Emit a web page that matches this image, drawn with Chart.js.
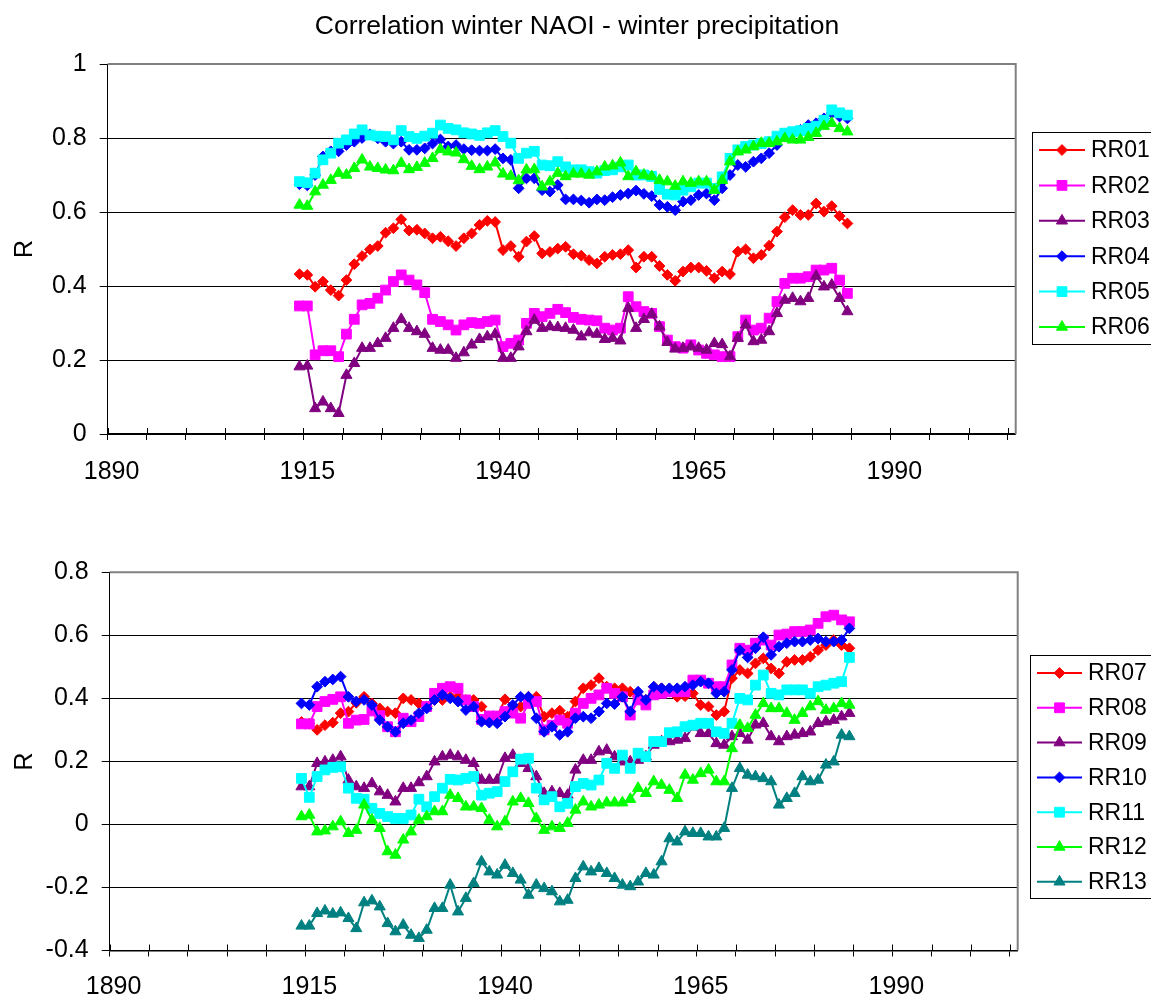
<!DOCTYPE html>
<html>
<head>
<meta charset="utf-8">
<script src="https://cdn.jsdelivr.net/npm/chart.js@4.4.1/dist/chart.umd.min.js"></script>
<style>
html,body{margin:0;padding:0;background:#fff;width:1151px;height:1004px;overflow:hidden}
.wrap{position:absolute;left:0;width:1151px}
</style>
</head>
<body>
<div class="wrap" style="top:0;height:505px"><canvas id="c1" width="1151" height="505"></canvas></div>
<div class="wrap" style="top:505px;height:499px"><canvas id="c2" width="1151" height="499"></canvas></div>
<script>
// ---------- data ----------
const chartTitle = 'Correlation winter NAOI - winter precipitation';
const axisFirstYear = 1890, axisLastYear = 2005;
const years = [1914,1915,1916,1917,1918,1919,1920,1921,1922,1923,1924,1925,1926,1927,1928,1929,1930,1931,1932,1933,
1934,1935,1936,1937,1938,1939,1940,1941,1942,1943,1944,1945,1946,1947,1948,1949,1950,1951,1952,1953,
1954,1955,1956,1957,1958,1959,1960,1961,1962,1963,1964,1965,1966,1967,1968,1969,1970,1971,1972,1973,
1974,1975,1976,1977,1978,1979,1980,1981,1982,1983,1984];

const RR01 = [0.432,0.43,0.398,0.412,0.389,0.374,0.416,0.459,0.481,0.499,0.508,0.544,0.556,0.58,0.55,0.552,0.542,0.529,0.533,0.521,0.508,0.529,0.542,0.565,0.576,0.573,0.497,0.508,0.479,0.52,0.535,0.488,0.492,0.501,0.506,0.486,0.482,0.47,0.461,0.479,0.484,0.486,0.497,0.45,0.479,0.479,0.454,0.43,0.414,0.439,0.45,0.45,0.441,0.421,0.439,0.432,0.493,0.499,0.475,0.484,0.509,0.547,0.586,0.605,0.592,0.592,0.623,0.601,0.616,0.589,0.569];
const RR02 = [0.346,0.346,0.214,0.225,0.225,0.209,0.27,0.31,0.349,0.353,0.367,0.389,0.412,0.43,0.416,0.403,0.382,0.31,0.304,0.295,0.281,0.295,0.301,0.299,0.304,0.308,0.236,0.245,0.254,0.299,0.326,0.317,0.326,0.337,0.328,0.315,0.31,0.308,0.306,0.286,0.281,0.286,0.371,0.344,0.331,0.326,0.29,0.254,0.236,0.232,0.241,0.227,0.218,0.214,0.209,0.209,0.263,0.308,0.281,0.286,0.313,0.358,0.407,0.421,0.421,0.425,0.443,0.443,0.448,0.416,0.38];
const RR03 = [0.182,0.184,0.069,0.087,0.069,0.056,0.159,0.191,0.232,0.232,0.245,0.259,0.286,0.31,0.286,0.277,0.27,0.232,0.227,0.227,0.205,0.22,0.241,0.256,0.263,0.27,0.205,0.205,0.236,0.277,0.308,0.286,0.29,0.288,0.286,0.281,0.263,0.274,0.27,0.256,0.259,0.252,0.34,0.286,0.31,0.324,0.29,0.248,0.23,0.232,0.236,0.232,0.227,0.245,0.242,0.209,0.259,0.295,0.25,0.254,0.277,0.326,0.362,0.367,0.358,0.367,0.427,0.398,0.403,0.367,0.331];
const RR04 = [0.675,0.672,0.70,0.75,0.764,0.764,0.781,0.79,0.80,0.81,0.799,0.79,0.785,0.79,0.768,0.768,0.772,0.785,0.796,0.777,0.781,0.77,0.767,0.766,0.766,0.77,0.745,0.741,0.664,0.691,0.691,0.659,0.655,0.673,0.634,0.634,0.631,0.625,0.634,0.632,0.64,0.646,0.65,0.658,0.649,0.643,0.619,0.614,0.605,0.628,0.632,0.646,0.65,0.632,0.664,0.70,0.727,0.722,0.736,0.745,0.759,0.781,0.804,0.813,0.822,0.835,0.84,0.853,0.867,0.858,0.853];
const RR05 = [0.682,0.679,0.705,0.741,0.759,0.786,0.795,0.811,0.822,0.808,0.805,0.804,0.795,0.82,0.804,0.799,0.805,0.813,0.835,0.826,0.822,0.814,0.811,0.807,0.814,0.82,0.804,0.786,0.745,0.759,0.764,0.727,0.725,0.736,0.722,0.714,0.714,0.709,0.705,0.712,0.714,0.722,0.727,0.70,0.70,0.696,0.661,0.648,0.646,0.659,0.668,0.678,0.678,0.664,0.695,0.745,0.768,0.777,0.781,0.785,0.79,0.805,0.813,0.817,0.82,0.826,0.832,0.848,0.876,0.868,0.862];
const RR06 = [0.619,0.616,0.655,0.673,0.686,0.705,0.70,0.718,0.741,0.722,0.718,0.714,0.712,0.732,0.715,0.721,0.732,0.745,0.769,0.763,0.76,0.742,0.724,0.715,0.722,0.733,0.703,0.697,0.685,0.714,0.715,0.668,0.682,0.705,0.696,0.703,0.703,0.70,0.709,0.722,0.725,0.733,0.696,0.709,0.70,0.696,0.686,0.682,0.67,0.682,0.678,0.682,0.682,0.659,0.686,0.736,0.763,0.768,0.777,0.786,0.786,0.79,0.799,0.795,0.795,0.802,0.813,0.832,0.84,0.826,0.817];

const RR07 = [0.325,0.32,0.30,0.315,0.323,0.353,0.358,0.386,0.405,0.384,0.368,0.358,0.353,0.40,0.395,0.384,0.374,0.395,0.395,0.405,0.405,0.395,0.395,0.374,0.342,0.342,0.397,0.374,0.374,0.405,0.405,0.342,0.353,0.361,0.342,0.39,0.432,0.442,0.464,0.437,0.432,0.432,0.421,0.405,0.395,0.437,0.432,0.421,0.405,0.407,0.416,0.379,0.374,0.347,0.358,0.464,0.49,0.479,0.511,0.527,0.495,0.479,0.516,0.522,0.522,0.532,0.553,0.569,0.585,0.569,0.559];
const RR08 = [0.319,0.319,0.374,0.39,0.397,0.405,0.321,0.331,0.333,0.36,0.345,0.31,0.294,0.337,0.326,0.342,0.374,0.416,0.432,0.437,0.432,0.395,0.374,0.333,0.344,0.344,0.358,0.353,0.337,0.384,0.39,0.30,0.315,0.331,0.321,0.353,0.384,0.40,0.411,0.432,0.416,0.405,0.347,0.395,0.379,0.411,0.416,0.421,0.421,0.421,0.458,0.458,0.448,0.437,0.437,0.506,0.559,0.553,0.575,0.585,0.569,0.601,0.604,0.612,0.612,0.617,0.638,0.659,0.664,0.649,0.643];
const RR09 = [0.12,0.12,0.194,0.199,0.204,0.215,0.141,0.12,0.115,0.13,0.104,0.093,0.072,0.115,0.115,0.133,0.152,0.199,0.215,0.22,0.215,0.204,0.194,0.141,0.141,0.141,0.21,0.22,0.194,0.178,0.152,0.099,0.104,0.099,0.093,0.173,0.204,0.204,0.231,0.236,0.215,0.199,0.199,0.204,0.215,0.252,0.263,0.263,0.268,0.273,0.31,0.289,0.289,0.257,0.252,0.279,0.289,0.268,0.316,0.321,0.279,0.263,0.279,0.284,0.289,0.294,0.321,0.326,0.331,0.342,0.353];
const RR10 = [0.384,0.379,0.437,0.453,0.46,0.469,0.405,0.39,0.395,0.379,0.331,0.31,0.294,0.321,0.331,0.353,0.368,0.395,0.411,0.40,0.39,0.363,0.374,0.326,0.323,0.321,0.342,0.379,0.405,0.405,0.337,0.294,0.31,0.284,0.294,0.337,0.342,0.337,0.358,0.384,0.382,0.405,0.358,0.421,0.395,0.437,0.432,0.432,0.432,0.437,0.442,0.453,0.448,0.416,0.421,0.49,0.553,0.53,0.559,0.594,0.538,0.564,0.575,0.58,0.58,0.585,0.59,0.58,0.58,0.585,0.622];
const RR11 = [0.146,0.086,0.152,0.173,0.181,0.183,0.115,0.083,0.08,0.051,0.035,0.025,0.019,0.019,0.03,0.08,0.056,0.088,0.115,0.143,0.141,0.146,0.152,0.093,0.099,0.104,0.136,0.167,0.207,0.21,0.115,0.078,0.088,0.056,0.067,0.12,0.13,0.125,0.141,0.194,0.178,0.22,0.178,0.226,0.215,0.263,0.263,0.291,0.294,0.31,0.315,0.321,0.321,0.294,0.289,0.321,0.40,0.395,0.442,0.474,0.416,0.411,0.427,0.427,0.427,0.416,0.437,0.442,0.448,0.453,0.53];
const RR12 = [0.025,0.03,-0.023,-0.02,-0.007,0.009,-0.028,-0.018,0.062,0.014,-0.012,-0.086,-0.097,-0.049,-0.023,0.014,0.025,0.041,0.041,0.093,0.083,0.056,0.056,0.051,0.014,-0.007,0.009,0.072,0.083,0.067,0.019,-0.018,-0.007,-0.012,0.004,0.046,0.072,0.056,0.062,0.069,0.069,0.069,0.08,0.115,0.099,0.136,0.125,0.109,0.083,0.157,0.141,0.162,0.173,0.136,0.136,0.241,0.315,0.305,0.347,0.384,0.368,0.368,0.353,0.331,0.353,0.374,0.39,0.363,0.368,0.384,0.379];
const RR13 = [-0.322,-0.322,-0.282,-0.274,-0.284,-0.28,-0.298,-0.33,-0.248,-0.242,-0.261,-0.314,-0.34,-0.319,-0.351,-0.361,-0.335,-0.266,-0.266,-0.192,-0.277,-0.234,-0.187,-0.118,-0.15,-0.16,-0.129,-0.155,-0.176,-0.224,-0.192,-0.203,-0.213,-0.245,-0.24,-0.171,-0.134,-0.15,-0.139,-0.155,-0.171,-0.192,-0.197,-0.182,-0.155,-0.16,-0.118,-0.045,-0.055,-0.023,-0.028,-0.028,-0.039,-0.039,-0.012,0.115,0.178,0.157,0.152,0.146,0.136,0.062,0.083,0.099,0.152,0.136,0.141,0.189,0.199,0.284,0.279];

const topNames = ['RR01','RR02','RR03','RR04','RR05','RR06'];
const topSeries = [RR01, RR02, RR03, RR04, RR05, RR06];
const botNames = ['RR07','RR08','RR09','RR10','RR11','RR12','RR13'];
const botSeries = [RR07, RR08, RR09, RR10, RR11, RR12, RR13];

// ---------- styles ----------
const FONT = "'Liberation Sans', Arial, sans-serif";
const DIA = {shape:'rectRot', r:5.4};
const SQ = {shape:'rect', r:6.9};
const TRI = {shape:'triangle', r:6.4};
const topStyles = [
  Object.assign({color:'#FF0000'}, DIA),
  Object.assign({color:'#FF00FF'}, SQ),
  Object.assign({color:'#800080'}, TRI),
  Object.assign({color:'#0000FF'}, DIA),
  Object.assign({color:'#00FFFF'}, SQ),
  Object.assign({color:'#00FF00'}, TRI)
];
const botStyles = [
  Object.assign({color:'#FF0000'}, DIA),
  Object.assign({color:'#FF00FF'}, SQ),
  Object.assign({color:'#800080'}, TRI),
  Object.assign({color:'#0000FF'}, DIA),
  Object.assign({color:'#00FFFF'}, SQ),
  Object.assign({color:'#00FF00'}, TRI),
  Object.assign({color:'#008080'}, TRI)
];

const axisLabels = [];
for (let y = axisFirstYear; y <= axisLastYear; y++) axisLabels.push(String(y));

function buildDatasets(names, series, styles) {
  return names.map((n, k) => ({
    label: n,
    data: series[k].map((v, i) => ({x: String(years[i]), y: v})),
    borderColor: styles[k].color,
    backgroundColor: styles[k].color,
    pointBackgroundColor: styles[k].color,
    pointBorderColor: styles[k].color,
    pointStyle: styles[k].shape,
    pointRadius: styles[k].r,
    pointHoverRadius: styles[k].r,
    pointBorderWidth: 1,
    borderWidth: 2,
    tension: 0,
    fill: false,
    order: -k
  }));
}

// ---------- plugins ----------
const crossTicks = {
  id: 'crossTicks',
  afterDraw(chart) {
    const xs = chart.scales.x, ctx = chart.ctx;
    const step = xs.getPixelForValue(1) - xs.getPixelForValue(0);
    const yb = chart.chartArea.bottom;
    ctx.save();
    ctx.strokeStyle = '#000';
    ctx.lineWidth = 1;
    for (let i = 0; i < axisLabels.length; i += 5) {
      const x = Math.round(xs.getPixelForValue(i) - step / 2) + 0.5;
      ctx.beginPath();
      ctx.moveTo(x, yb - 6);
      ctx.lineTo(x, yb);
      ctx.stroke();
    }
    ctx.restore();
  }
};

const plotBorder = {
  id: 'plotBorder',
  beforeDatasetsDraw(chart) {
    const a = chart.chartArea, ctx = chart.ctx;
    ctx.save();
    ctx.strokeStyle = '#808080';
    ctx.lineWidth = 2;
    ctx.beginPath();
    ctx.moveTo(a.left, a.top);
    ctx.lineTo(a.right, a.top);
    ctx.lineTo(a.right, a.bottom);
    ctx.stroke();
    ctx.restore();
  }
};

const boxLegend = {
  id: 'boxLegend',
  afterDraw(chart, args, o) {
    const ctx = chart.ctx;
    ctx.save();
    ctx.fillStyle = '#fff';
    ctx.fillRect(o.x, o.y, o.w, o.h);
    ctx.strokeStyle = '#000';
    ctx.lineWidth = 1;
    ctx.strokeRect(o.x + 0.5, o.y + 0.5, o.w, o.h);
    chart.data.datasets.forEach((ds, k) => {
      const cy = o.firstY + k * o.step;
      ctx.strokeStyle = ds.borderColor;
      ctx.lineWidth = ds.borderWidth;
      ctx.beginPath();
      ctx.moveTo(o.lineX1, cy);
      ctx.lineTo(o.lineX2, cy);
      ctx.stroke();
      ctx.fillStyle = ds.backgroundColor;
      ctx.strokeStyle = ds.borderColor;
      ctx.lineWidth = 1;
      Chart.helpers.drawPoint(ctx, {pointStyle: ds.pointStyle, radius: ds.pointRadius, borderWidth: 1, rotation: 0}, (o.lineX1 + o.lineX2) / 2, cy);
      ctx.fillStyle = '#000';
      ctx.font = o.font;
      ctx.textBaseline = 'middle';
      ctx.textAlign = 'left';
      ctx.fillText(ds.label, o.textX, cy + 1);
    });
    ctx.restore();
  }
};

const titleText = {
  id: 'titleText',
  afterDraw(chart, args, o) {
    if (!o || !o.text) return;
    const ctx = chart.ctx;
    ctx.save();
    ctx.fillStyle = '#000';
    ctx.font = o.font;
    ctx.textAlign = 'center';
    ctx.textBaseline = 'middle';
    ctx.fillText(o.text, o.x, o.y);
    ctx.restore();
  }
};

function makeChart(canvasId, cfg) {
  const H = cfg.height;
  return new Chart(document.getElementById(canvasId), {
    type: 'line',
    data: {labels: axisLabels, datasets: cfg.datasets},
    options: {
      responsive: false,
      animation: false,
      devicePixelRatio: 1,
      events: [],
      layout: {padding: {top: cfg.top, right: 1151 - cfg.right, left: 0, bottom: 0}},
      plugins: {
        legend: {display: false},
        tooltip: {enabled: false},
        title: {display: false},
        boxLegend: cfg.legend,
        titleText: cfg.title || {}
      },
      scales: {
        x: {
          type: 'category',
          offset: true,
          afterFit(s) { s.height = H - cfg.bottom; },
          border: {display: true, color: '#000', width: 1.5},
          grid: {
            display: true,
            offset: true,
            drawOnChartArea: false,
            drawTicks: true,
            tickLength: 6,
            lineWidth: 1,
            color: (c) => (c.type === 'tick' && c.index % 5 === 0) ? '#000' : 'rgba(0,0,0,0)'
          },
          ticks: {
            autoSkip: false,
            maxRotation: 0,
            minRotation: 0,
            padding: cfg.xPad,
            color: '#000',
            font: {family: FONT, size: 25},
            callback: (v, i) => (i % 25 === 0 ? axisLabels[i] : '')
          }
        },
        y: {
          type: 'linear',
          min: cfg.min,
          max: cfg.max,
          afterFit(s) { s.width = cfg.left; },
          border: {display: true, color: '#000', width: 1},
          grid: {
            color: (c) => (c.tick && Math.abs(c.tick.value - cfg.max) < 1e-9) ? 'rgba(0,0,0,0)' : '#000',
            tickColor: '#000',
            lineWidth: 1,
            tickLength: 8
          },
          ticks: {
            stepSize: 0.2,
            padding: 13,
            color: '#000',
            font: {family: FONT, size: 25},
            callback: (v) => String(Math.round(v * 100) / 100)
          },
          title: {
            display: true,
            text: 'R',
            color: '#000',
            font: {family: FONT, size: 25},
            padding: {top: 10, bottom: 0}
          }
        }
      }
    },
    plugins: [plotBorder, crossTicks, boxLegend, titleText]
  });
}

makeChart('c1', {
  height: 505, top: 64, bottom: 434, left: 107.7, right: 1015.7,
  min: 0, max: 1, xPad: 17,
  datasets: buildDatasets(topNames, topSeries, topStyles),
  legend: {x: 1032, y: 132, w: 200, h: 212, firstY: 150, step: 35.4, lineX1: 1039, lineX2: 1085, textX: 1091, font: "23px " + FONT},
  title: {text: chartTitle, x: 577, y: 27, font: "26.5px " + FONT}
});

makeChart('c2', {
  height: 499, top: 67.3, bottom: 445.5, left: 109.7, right: 1017.7,
  min: -0.4, max: 0.8, xPad: 16,
  datasets: buildDatasets(botNames, botSeries, botStyles),
  legend: {x: 1030, y: 150, w: 200, h: 243, firstY: 168, step: 34.8, lineX1: 1037, lineX2: 1082, textX: 1088, font: "23px " + FONT}
});
</script>
</body>
</html>
